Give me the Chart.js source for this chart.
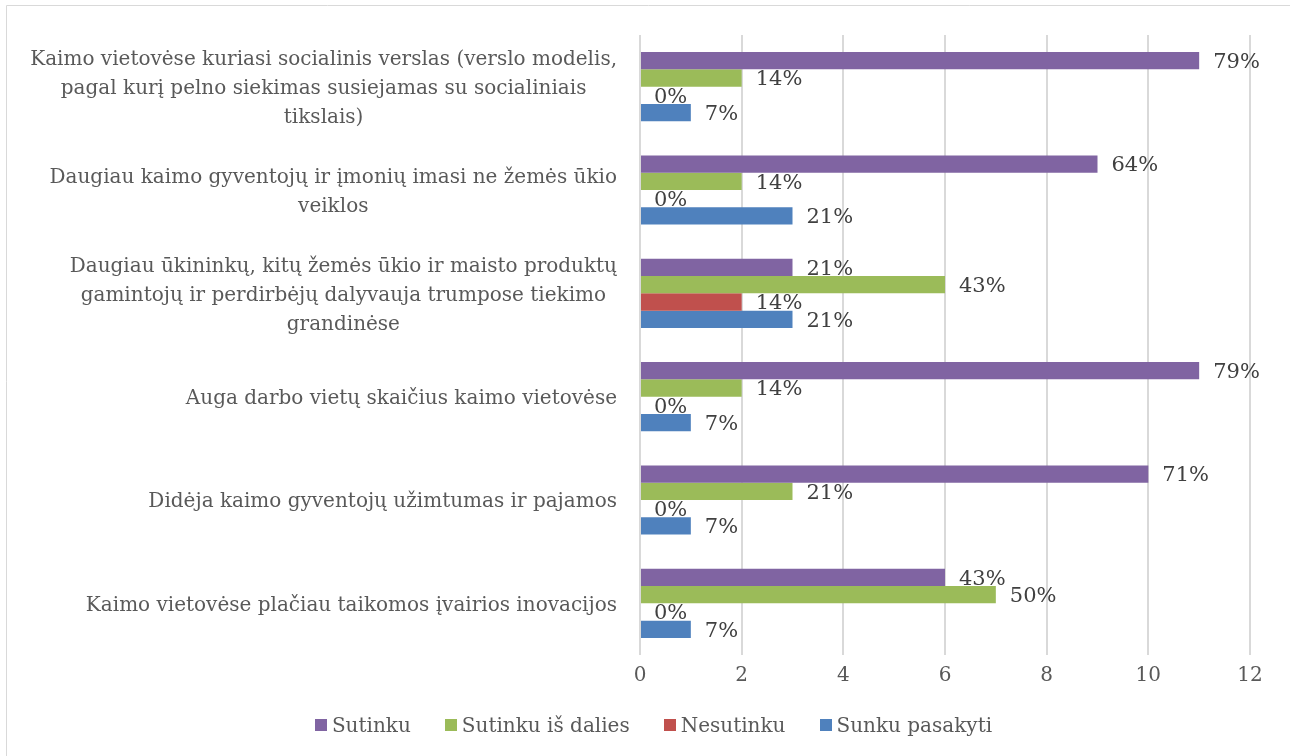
<!DOCTYPE html>
<html>
<head>
<meta charset="utf-8">
<script src="https://cdn.jsdelivr.net/npm/chart.js@4/dist/chart.umd.min.js"></script>
<style>
  html, body { margin: 0; padding: 0; background: #fff; }
  #wrap { position: relative; width: 1290px; height: 756px; overflow: hidden; }
  #legend { position: absolute; left: 0; width: 1307px; top: 711px; display: flex; justify-content: center;
            font: 20px "DejaVu Serif", serif; color: #595959; line-height: 28px; }
  #legend .item { display: flex; align-items: center; margin: 0 17px; }
  #legend .box { width: 12px; height: 12px; margin-right: 5px; }
</style>
</head>
<body>
<div id="wrap"><canvas id="chart" width="1290" height="756"></canvas><div id="legend"></div></div>
<script>
// -------- data --------
const categories = [
  ['Kaimo vietovėse kuriasi socialinis verslas (verslo modelis,', 'pagal kurį pelno siekimas susiejamas su socialiniais', 'tikslais)'],
  ['Daugiau kaimo gyventojų ir įmonių imasi ne žemės ūkio', 'veiklos'],
  ['Daugiau ūkininkų, kitų žemės ūkio ir maisto produktų', 'gamintojų ir perdirbėjų dalyvauja trumpose tiekimo', 'grandinėse'],
  ['Auga darbo vietų skaičius kaimo vietovėse'],
  ['Didėja kaimo gyventojų užimtumas ir pajamos'],
  ['Kaimo vietovėse plačiau taikomos įvairios inovacijos']
];
const seriesNames = ['Sutinku', 'Sutinku iš dalies', 'Nesutinku', 'Sunku pasakyti'];
const sutinku         = [11, 9, 3, 11, 10, 6];
const sutinkuIsDalies = [2, 2, 6, 2, 3, 7];
const nesutinku       = [0, 0, 2, 0, 0, 0];
const sunkuPasakyti   = [1, 3, 3, 1, 1, 1];
// percent labels shown next to bars
const sutinkuPct   = ['79%', '64%', '21%', '79%', '71%', '43%'];
const dalisPct     = ['14%', '14%', '43%', '14%', '21%', '50%'];
const nesutinkuPct = ['0%', '0%', '14%', '0%', '0%', '0%'];
const sunkuPct     = ['7%', '21%', '21%', '7%', '7%', '7%'];
const xTicks = [0, 2, 4, 6, 8, 10, 12];

const colors = ['#8064A2', '#9BBB59', '#C0504D', '#4F81BD'];
const FONT = '"DejaVu Serif", serif';
const TEXT = '#595959';

// outer frame like the original document box
const framePlugin = {
  id: 'frame',
  beforeDraw(chart) {
    const c = chart.ctx;
    c.save();
    c.strokeStyle = '#D9D9D9';
    c.lineWidth = 1;
    c.beginPath();
    c.moveTo(6.5, 800); c.lineTo(6.5, 5.5); c.lineTo(1400, 5.5);
    c.stroke();
    c.restore();
  }
};

// category labels: block right aligned, lines centred inside block
const catLabels = {
  id: 'catLabels',
  afterDraw(chart) {
    const c = chart.ctx, y = chart.scales.y;
    const right = chart.chartArea.left - 23, lh = 29;
    c.save();
    c.font = '20px ' + FONT;
    c.fillStyle = TEXT;
    c.textBaseline = 'middle';
    c.textAlign = 'center';
    categories.forEach((lines, i) => {
      const w = Math.max(...lines.map(l => c.measureText(l).width));
      const cy = y.getPixelForValue(i) + 2;
      const top = cy - (lines.length - 1) * lh / 2;
      lines.forEach((l, k) => c.fillText(l, right - w / 2, top + k * lh));
    });
    c.restore();
  }
};

// percent labels at bar ends
const pctLabels = {
  id: 'pctLabels',
  afterDatasetsDraw(chart) {
    const c = chart.ctx;
    c.save();
    c.font = '21px ' + FONT;
    c.fillStyle = '#404040';
    c.textBaseline = 'middle';
    c.textAlign = 'left';
    chart.data.datasets.forEach((ds, di) => {
      chart.getDatasetMeta(di).data.forEach((bar, i) => {
        c.fillText(ds.pct[i], bar.x + 14, bar.y + 2);
      });
    });
    c.restore();
  }
};

const pcts = [sutinkuPct, dalisPct, nesutinkuPct, sunkuPct];
const values = [sutinku, sutinkuIsDalies, nesutinku, sunkuPasakyti];

const chart = new Chart(document.getElementById('chart'), {
  type: 'bar',
  data: {
    labels: categories.map(l => l.join(' ')),
    datasets: seriesNames.map((name, i) => ({
      label: name,
      data: values[i],
      pct: pcts[i],
      backgroundColor: colors[i],
      categoryPercentage: 0.67,
      barPercentage: 1
    }))
  },
  options: {
    indexAxis: 'y',
    responsive: false,
    animation: false,
    layout: { padding: { left: 0, right: 40, top: 35, bottom: 56 } },
    plugins: {
      legend: { display: false },
      tooltip: { enabled: false }
    },
    scales: {
      x: {
        min: 0, max: 12,
        afterBuildTicks(s) { s.ticks = xTicks.map(v => ({ value: v })); },
        afterFit(s) { s.height = 45; },
        grid: { color: '#D9D9D9', lineWidth: 2, drawTicks: false },
        border: { display: false },
        ticks: { font: { family: FONT, size: 20 }, color: TEXT, padding: 9 }
      },
      y: {
        grid: { display: false },
        border: { display: false },
        ticks: { display: false },
        afterFit(s) { s.width = 640; }
      }
    }
  },
  plugins: [framePlugin, catLabels, pctLabels]
});

// html legend built from the datasets
document.getElementById('legend').innerHTML = chart.data.datasets.map(ds =>
  `<div class="item"><span class="box" style="background:${ds.backgroundColor}"></span>${ds.label}</div>`
).join('');
</script>
</body>
</html>
